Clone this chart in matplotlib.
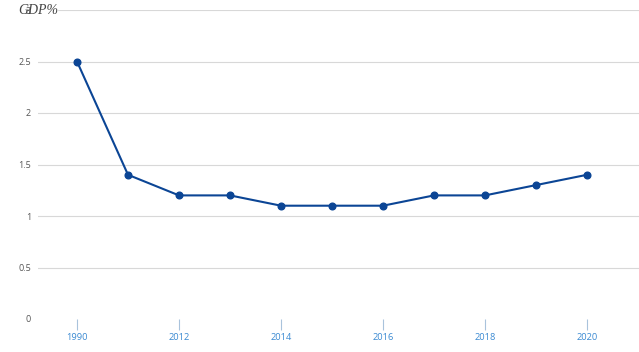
import matplotlib
matplotlib.use("Agg")
import matplotlib.pyplot as plt
import matplotlib.transforms as mtrans
from matplotlib.patches import Rectangle

# data
years = ["1990", "2011", "2012", "2013", "2014", "2015",
         "2016", "2017", "2018", "2019", "2020"]
gdp_pct = [2.5, 1.4, 1.2, 1.2, 1.1, 1.1, 1.1, 1.2, 1.2, 1.3, 1.4]
y_ticks = [0, 0.5, 1, 1.5, 2, 2.5, 3]

fig = plt.figure(figsize=(6.39, 3.52), dpi=100)
ax = fig.add_axes([38 / 639, 1 - 319 / 352, 601 / 639, 309 / 352])

pos = list(range(len(years)))
ax.plot(pos, gdp_pct, color="#0b4595", lw=1.5, marker="o", ms=4.8, zorder=3)

ax.set_xlim(-0.765, 11.02)
ax.set_ylim(0, 3)

# y axis: grid lines and labels only
ax.set_yticks(y_ticks)
ax.set_yticklabels([f"{v:g}" for v in y_ticks])
ax.yaxis.grid(True, color="#d8d8d8", lw=0.8)
ax.yaxis.get_gridlines()[0].set_visible(False)
ax.tick_params(axis="y", length=0, pad=5, labelsize=6.5, labelcolor="#555555")
ax.set_axisbelow(True)

# x axis: every other year labelled
ax.set_xticks(pos[::2])
ax.set_xticklabels(years[::2])
ax.tick_params(axis="x", length=8, width=0.8, color="#a9c3dc", pad=2,
               labelsize=6.7, labelcolor="#3b8ad2")

for s in ax.spines.values():
    s.set_visible(False)

# the unit label hides the start of the top grid line
blend = mtrans.blended_transform_factory(ax.transAxes, ax.transData)
ax.add_patch(Rectangle((0, 2.97), 19 / 601, 0.06, transform=blend,
                       color="white", zorder=1, clip_on=False))
fig.text(18 / 639, 1 - 10 / 352, "GDP%", family="Liberation Serif",
         style="italic", fontsize=10, color="#444444", va="center")

for lab in ax.get_xticklabels() + ax.get_yticklabels():
    lab.set_family("Open Sans")

fig.savefig("out.png", dpi=100)
